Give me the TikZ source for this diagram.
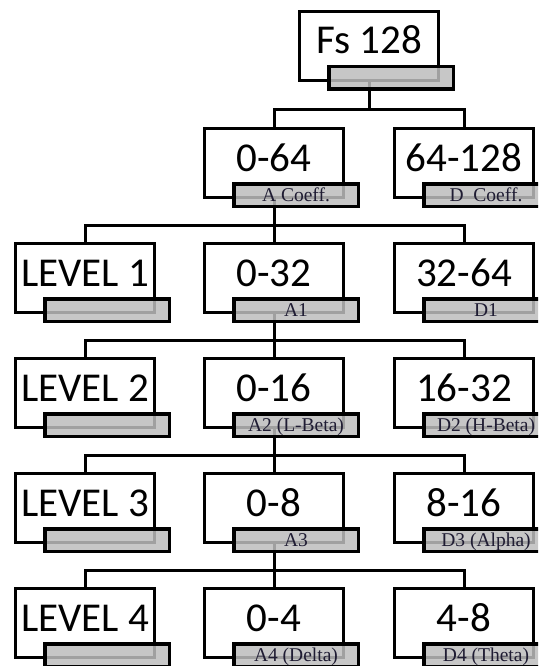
\documentclass[tikz,border=0pt]{standalone}
\usepackage{fontspec}
\newfontfamily\boxfont{Carlito}
\newfontfamily\tagfont{Liberation Serif}
\definecolor{tagfill}{gray}{0.74}
\definecolor{tagink}{rgb}{0.12,0.11,0.2}
\tikzset{
  bandbox/.style={draw=black, line width=3pt, fill=white,
    minimum width=139pt, minimum height=69pt, inner sep=0pt,
    text height=30pt, text depth=14pt,
    font=\boxfont\fontsize{41}{41}\selectfont},
  coefftag/.style={draw=black, line width=3.5pt, fill=tagfill,
    fill opacity=0.85, text opacity=1, draw opacity=1,
    minimum width=124.5pt, minimum height=22.5pt, inner sep=0pt,
    text=tagink, text height=15pt, text depth=3pt,
    font=\tagfont\fontsize{19.5}{19.5}\selectfont},
  wire/.style={line width=3pt}
}
\begin{document}
\begin{tikzpicture}[x=1pt,y=-1pt]
\useasboundingbox (0,0) rectangle (538,666);
\clip (0,0) rectangle (538,666);

% frequency band boxes
\node[bandbox] (fs)  at (369,46)  {Fs 128};
\node[bandbox] (c1)  at (274,163) {0-64};
\node[bandbox] (r1)  at (464,163) {64-128};
\node[bandbox] (l2)  at (85,278)  {LEVEL 1};
\node[bandbox] (c2)  at (274,278) {0-32};
\node[bandbox] (r2)  at (464,278) {32-64};
\node[bandbox] (l3)  at (85,393)  {LEVEL 2};
\node[bandbox] (c3)  at (274,393) {0-16};
\node[bandbox] (r3)  at (464,393) {16-32};
\node[bandbox] (l4)  at (85,508)  {LEVEL 3};
\node[bandbox] (c4)  at (274,508) {0-8};
\node[bandbox] (r4)  at (464,508) {8-16};
\node[bandbox] (l5)  at (85,623)  {LEVEL 4};
\node[bandbox] (c5)  at (274,623) {0-4};
\node[bandbox] (r5)  at (464,623) {4-8};

% bus heights between levels
\coordinate (bus1) at (0,110);
\coordinate (bus2) at (0,225);
\coordinate (bus3) at (0,340);
\coordinate (bus4) at (0,455);
\coordinate (bus5) at (0,570);

% decomposition tree
\draw[wire] (fs.south) -- (fs.south |- bus1);
\draw[wire] (c1.north) -- (c1.north |- bus1) -- (r1.north |- bus1) -- (r1.north);

\draw[wire] (c1.south) -- (c2.north);
\draw[wire] (l2.north) -- (l2.north |- bus2) -- (r2.north |- bus2) -- (r2.north);

\draw[wire] (c2.south) -- (c3.north);
\draw[wire] (l3.north) -- (l3.north |- bus3) -- (r3.north |- bus3) -- (r3.north);

\draw[wire] (c3.south) -- (c4.north);
\draw[wire] (l4.north) -- (l4.north |- bus4) -- (r4.north |- bus4) -- (r4.north);

\draw[wire] (c4.south) -- (c5.north);
\draw[wire] (l5.north) -- (l5.north |- bus5) -- (r5.north |- bus5) -- (r5.north);

% coefficient tags
\node[coefftag] (fst) at (391,78)  {};
\node[coefftag] (c1t) at (296,195) {A Coeff.};
\node[coefftag] (r1t) at (486,195) {D\enspace Coeff.};
\node[coefftag] (l2t) at (107,310) {};
\node[coefftag] (c2t) at (296,310) {A1};
\node[coefftag] (r2t) at (486,310) {D1};
\node[coefftag] (l3t) at (107,425) {};
\node[coefftag] (c3t) at (296,425) {A2 (L-Beta)};
\node[coefftag] (r3t) at (486,425) {D2 (H-Beta)};
\node[coefftag] (l4t) at (107,540) {};
\node[coefftag] (c4t) at (296,540) {A3};
\node[coefftag] (r4t) at (486,540) {D3 (Alpha)};
\node[coefftag] (l5t) at (107,655) {};
\node[coefftag] (c5t) at (296,655) {A4 (Delta)};
\node[coefftag] (r5t) at (486,655) {D4 (Theta)};
\end{tikzpicture}
\end{document}
